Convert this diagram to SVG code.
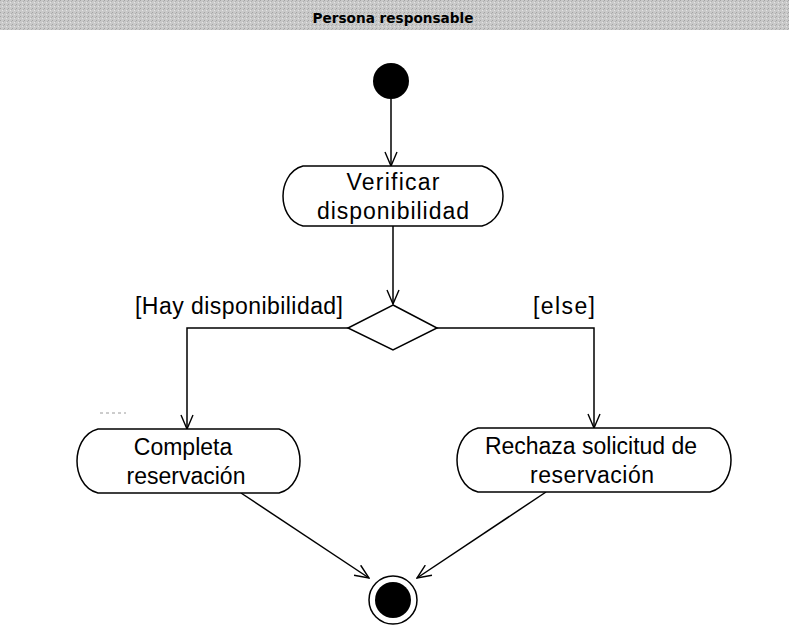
<svg xmlns="http://www.w3.org/2000/svg" width="789" height="637" viewBox="0 0 789 637">
  <style>
    .act { fill: #ffffff; stroke: #000000; stroke-width: 1.5; }
    .lbl { font-family: "Liberation Sans", Arial, sans-serif; font-size: 23px; fill: #000000; text-anchor: middle; }
    .flow { fill: none; stroke: #000000; stroke-width: 1.5; marker-end: url(#open); }
    .hdr { font-family: "DejaVu Sans", "Liberation Sans", sans-serif; font-size: 14px; font-weight: bold; fill: #000000; }
  </style>
  <defs>
    <marker id="open" viewBox="0 0 16 14" refX="15" refY="7" markerWidth="16" markerHeight="14" markerUnits="userSpaceOnUse" orient="auto">
      <path d="M1 1 L15 7 L1 13" fill="none" stroke="#000000" stroke-width="1.4"/>
    </marker>
    <pattern id="grain" width="4" height="4" patternUnits="userSpaceOnUse">
      <rect width="4" height="4" fill="#c9c9c9"/>
      <rect x="0" y="0" width="1" height="1" fill="#a4a4a4"/>
      <rect x="2" y="2" width="1" height="1" fill="#e4e4e4"/>
      <rect x="3" y="1" width="1" height="1" fill="#b0b0b0"/>
    </pattern>
  </defs>

  <rect width="789" height="637" fill="#ffffff"/>

  <!-- swimlane header -->
  <g id="lane-header">
    <rect x="0" y="0" width="789" height="30" fill="url(#grain)"/>
    <text class="hdr" x="393" y="23" text-anchor="middle" textLength="161" lengthAdjust="spacingAndGlyphs">Persona responsable</text>
  </g>

  <!-- connectors -->
  <g id="connectors">
    <line class="flow" x1="391" y1="99" x2="391" y2="166"/>
    <line class="flow" x1="393" y1="226" x2="393" y2="304"/>
    <polyline class="flow" points="348,328 187,328 187,429"/>
    <polyline class="flow" points="437,328 594,328 594,428"/>
    <line class="flow" x1="241" y1="493" x2="369" y2="578"/>
    <line class="flow" x1="546" y1="492" x2="417" y2="578"/>
    <text class="lbl" x="239" y="314" textLength="208" lengthAdjust="spacing">[Hay disponibilidad]</text>
    <text class="lbl" x="564" y="314" textLength="62" lengthAdjust="spacing">[else]</text>
    <line x1="100" y1="413" x2="126" y2="413" stroke="#9a9a9a" stroke-width="1" stroke-dasharray="3 3"/>
  </g>

  <g id="initial">
    <circle cx="391" cy="81" r="18" fill="#000000"/>
  </g>

  <g id="verificar">
    <path class="act" d="M303 166 H482 C497 170 503 186 503 196 C503 207 497 222 482 226 H303 C288 222 283 207 283 196 C283 186 288 170 303 166 Z"/>
    <text class="lbl" x="393" y="190" textLength="93" lengthAdjust="spacing">Verificar</text>
    <text class="lbl" x="393" y="219" textLength="152" lengthAdjust="spacing">disponibilidad</text>
  </g>

  <g id="decision">
    <polygon points="393,305 437,328 393,350 348,328" fill="#ffffff" stroke="#000000" stroke-width="1.5"/>
  </g>

  <g id="completa">
    <path class="act" d="M98 429 H279 C295 433 300 450 300 461 C300 472 295 489 279 493 H98 C82 489 77 472 77 461 C77 450 82 433 98 429 Z"/>
    <text class="lbl" x="183" y="455">Completa</text>
    <text class="lbl" x="186" y="484">reservación</text>
  </g>

  <g id="rechaza">
    <path class="act" d="M478 428 H710 C726 432 731 449 731 460 C731 471 726 488 710 492 H478 C462 488 457 471 457 460 C457 449 462 432 478 428 Z"/>
    <text class="lbl" x="591" y="454">Rechaza solicitud de</text>
    <text class="lbl" x="592" y="483" textLength="124" lengthAdjust="spacing">reservación</text>
  </g>

  <g id="final">
    <circle cx="393" cy="600" r="24" fill="#ffffff" stroke="#000000" stroke-width="1.5"/>
    <circle cx="393" cy="600" r="18" fill="#000000"/>
  </g>
</svg>
